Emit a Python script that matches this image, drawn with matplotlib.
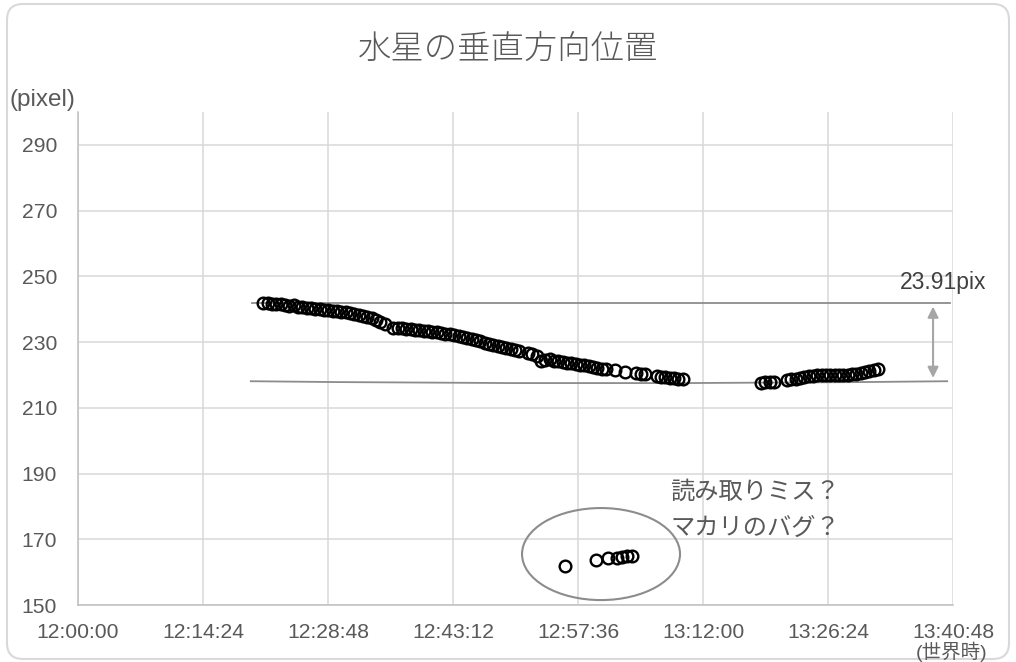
import matplotlib
matplotlib.use("Agg")
import pandas as pd
from matplotlib import pyplot as plt
from matplotlib.patches import Ellipse, FancyBboxPatch, PathPatch
from matplotlib.path import Path
from matplotlib.ticker import FuncFormatter, MultipleLocator

plt.rcParams["font.family"] = ["Liberation Sans", "Noto Sans CJK JP"]
TEXT = "#595959"

# vertical position of Mercury (pixel) per observation time (UT)
times_a = [
    "12:21:20", "12:21:50", "12:22:20", "12:22:50", "12:23:20", "12:23:50", "12:24:20", "12:24:50",
    "12:25:20", "12:25:50", "12:26:20", "12:26:50", "12:27:20", "12:27:50", "12:28:20", "12:28:50",
    "12:29:20", "12:29:50", "12:30:20", "12:30:50", "12:31:20", "12:31:50", "12:32:20", "12:32:50",
    "12:33:20", "12:33:50", "12:34:20", "12:34:50", "12:35:20",
    "12:36:20", "12:36:50", "12:37:20", "12:37:50", "12:38:20", "12:38:50", "12:39:20", "12:39:50",
    "12:40:20", "12:40:50", "12:41:20", "12:41:50", "12:42:20", "12:42:50", "12:43:20", "12:43:50",
    "12:44:20", "12:44:50", "12:45:20", "12:45:50", "12:46:20", "12:46:50", "12:47:20", "12:47:50",
    "12:48:20", "12:48:50", "12:49:20", "12:49:50", "12:50:20", "12:50:50",
    "12:51:50", "12:52:20", "12:52:50", "12:53:20", "12:53:50", "12:54:20", "12:54:50", "12:55:20",
    "12:55:50", "12:56:20", "12:56:50", "12:57:20", "12:57:50", "12:58:20", "12:58:50", "12:59:20",
    "12:59:50", "13:00:20", "13:00:50", "13:01:50", "13:03:00", "13:04:20", "13:04:50", "13:05:20",
    "13:06:40", "13:07:10", "13:07:40", "13:08:10", "13:08:40", "13:09:10", "13:09:40",
]
ypos_a = [
    242.0, 241.9, 241.7, 241.5, 241.6, 241.3, 241.1, 241.2,
    240.8, 240.6, 240.5, 240.3, 240.2, 240.0, 239.9, 239.7,
    239.6, 239.4, 239.2, 239.0, 238.8, 238.6, 238.3, 238.0,
    237.7, 237.3, 236.8, 236.2, 235.6,
    234.3, 234.4, 234.2, 234.1, 234.0, 233.8, 233.7, 233.5,
    233.4, 233.2, 233.0, 232.8, 232.6, 232.4, 232.2, 231.9,
    231.6, 231.3, 231.0, 230.6, 230.2, 229.8, 229.5, 229.1,
    228.8, 228.5, 228.2, 227.9, 227.6, 227.4,
    226.6, 226.3, 225.9, 224.2, 224.6, 224.8, 224.3, 224.1,
    223.9, 223.7, 223.5, 223.3, 223.1, 222.9, 222.7, 222.5,
    222.2, 221.9, 221.7, 221.4, 221.0, 220.6, 220.4, 220.3,
    219.7, 219.5, 219.3, 219.2, 219.0, 218.9, 218.8,
]

times_b = [
    "13:18:40", "13:19:10", "13:19:40", "13:20:10",
    "13:21:40", "13:22:10", "13:22:40", "13:23:10", "13:23:40", "13:24:10", "13:24:40", "13:25:10",
    "13:25:40", "13:26:10", "13:26:40", "13:27:10", "13:27:40", "13:28:10", "13:28:40", "13:29:10",
    "13:29:40", "13:30:10", "13:30:40", "13:31:10", "13:31:40", "13:32:10",
]
ypos_b = [
    217.6, 217.8, 217.9, 218.0,
    218.4, 218.7, 218.9, 219.2, 219.4, 219.6, 219.8, 219.9,
    220.0, 220.0, 220.0, 220.0, 220.1, 220.0, 220.1, 220.2,
    220.4, 220.6, 220.9, 221.2, 221.6, 221.9,
]

# suspicious readings
times_c = ["12:56:05", "12:59:42", "13:01:04", "13:02:06", "13:02:40", "13:03:15", "13:03:49"]
ypos_c = [161.9, 163.7, 164.2, 164.4, 164.6, 164.8, 165.0]

upper_level = 242.0
span = 23.91
lower_level = upper_level - span


def secs(t):
    return pd.to_timedelta(pd.Series(t)).dt.total_seconds().to_numpy()


def hms(v, pos=None):
    v = int(round(v))
    return f"{v // 3600}:{v % 3600 // 60:02d}:{v % 60:02d}"


x_all = list(secs(times_a)) + list(secs(times_b)) + list(secs(times_c))
y_all = ypos_a + ypos_b + ypos_c

fig = plt.figure(figsize=(10.16, 6.62), dpi=100)
ax = fig.add_axes([0.0768, 0.0861, 0.8612, 0.7447])

ax.plot(x_all, y_all, "o", ls="none", ms=8.4, mfc="none", mec="black", mew=1.7, zorder=4)

t0, t1 = secs(["12:00:00", "13:40:48"])
ax.set_xlim(t0, t1)
ax.set_ylim(150, 300)
ax.xaxis.set_major_locator(MultipleLocator(864))
ax.xaxis.set_major_formatter(FuncFormatter(hms))
ax.set_yticks(range(150, 300, 20))
ax.grid(True, color="#d9d9d9", lw=1.1)
ax.set_axisbelow(True)
for side in ("top", "right"):
    ax.spines[side].set_visible(False)
for side in ("left", "bottom"):
    ax.spines[side].set_color("#bfbfbf")
    ax.spines[side].set_linewidth(1.1)
ax.tick_params(length=0, labelsize=15.2, labelcolor=TEXT)
ax.tick_params(axis="y", pad=15)
ax.tick_params(axis="x", pad=13)

# range of the vertical drift
ln_a, ln_b = secs(["12:20:03", "13:40:28"])
ax.plot([ln_a, ln_b], [upper_level, upper_level], color="#8c8c8c", lw=1.3, zorder=3)
c_a, c_mid, c_b = secs(["12:19:48", "13:00:00", "13:40:14"])
curve = Path([(c_a, lower_level), (c_mid, lower_level - 1.2), (c_b, lower_level)],
             [Path.MOVETO, Path.CURVE3, Path.CURVE3])
ax.add_patch(PathPatch(curve, fc="none", ec="#8c8c8c", lw=1.3, zorder=3))
arr_x = secs(["13:38:30"])[0]
ax.annotate("", xy=(arr_x, upper_level - 1.2), xytext=(arr_x, lower_level + 1.0),
            arrowprops=dict(arrowstyle="<|-|>", color="#a6a6a6", lw=1.5,
                            mutation_scale=16, shrinkA=0, shrinkB=0))
ax.text(secs(["13:39:40"])[0], 248.0, f"{span:.2f}pix", ha="center", va="center",
        fontsize=16.5, color="#404040", clip_on=False)

ell_c = secs(["13:00:15"])[0]
ax.add_patch(Ellipse((ell_c, 165.5), 1092, 28, fc="none", ec="#8c8c8c", lw=1.5, zorder=3))
note_x = secs(["13:08:12"])[0]
ax.text(note_x, 184.4, "読み取りミス？", ha="left", va="center", fontsize=17.5,
        color=TEXT, family="Noto Sans CJK JP")
ax.text(note_x, 173.4, "マカリのバグ？", ha="left", va="center", fontsize=17.5,
        color=TEXT, family="Noto Sans CJK JP")

fig.text(0.5, 0.925, "水星の垂直方向位置", ha="center", va="center", fontsize=24,
         color=TEXT, family="Noto Sans CJK JP", weight="light")
fig.text(0.0098, 0.849, "(pixel)", ha="left", va="center", fontsize=17.5, color=TEXT)
fig.text(0.9362, 0.016, "(世界時)", ha="center", va="center", fontsize=14,
         color=TEXT, family=["Liberation Sans", "Noto Sans CJK JP"])

fig.add_artist(FancyBboxPatch((7, 3), 1002, 655, boxstyle="round,pad=0,rounding_size=16",
                              transform=None, fc="none", ec="#d9d9d9", lw=1.5))

fig.savefig("out.png", dpi=100)
